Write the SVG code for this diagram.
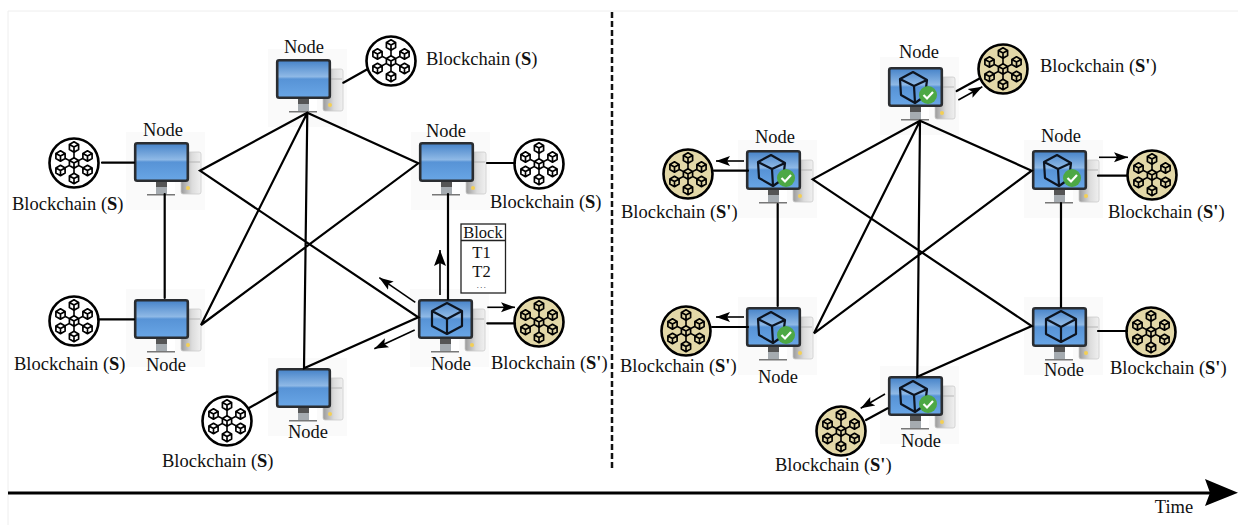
<svg xmlns="http://www.w3.org/2000/svg" width="1238" height="525" viewBox="0 0 1238 525">
<style>
text{font-family:"Liberation Serif","Times New Roman",serif;font-size:18.5px;fill:#111}
.m{text-anchor:middle}
.k{stroke:#000;stroke-width:2.2;fill:none;stroke-linecap:round}
.a{stroke:#000;stroke-width:1.6;fill:none}
.big{marker-end:url(#head)}
.sm{marker-end:url(#headS)}
.cube{fill:none;stroke:#0d1420;stroke-width:2.2;stroke-linejoin:round}
.sc{fill:none;stroke:#000;stroke-width:1.7;stroke-linejoin:round}
</style>
<defs>
<linearGradient id="scr" x1="0" y1="0" x2="0" y2="1">
<stop offset="0" stop-color="#4582c8"/><stop offset=".44" stop-color="#8fb9e6"/><stop offset=".5" stop-color="#5793d6"/><stop offset="1" stop-color="#69a6e6"/>
</linearGradient>
<linearGradient id="tw" x1="0" y1="0" x2="1" y2="0">
<stop offset="0" stop-color="#9a9a9a"/><stop offset=".55" stop-color="#dcdcdc"/><stop offset="1" stop-color="#f0f0f0"/>
</linearGradient>
<marker id="head" markerUnits="userSpaceOnUse" markerWidth="18" markerHeight="14" refX="16" refY="7" orient="auto"><path d="M0 1L16 7L0 13L3 7Z" fill="#000"/></marker>
<marker id="headS" markerUnits="userSpaceOnUse" markerWidth="15" markerHeight="12" refX="14" refY="6" orient="auto"><path d="M0 1L14 6L0 11L3 6Z" fill="#000"/></marker>
<g id="pc">
<rect x="-8" y="-10" width="79" height="78" fill="#fafafa"/>
<rect x="47" y="10" width="20" height="42" rx="2" fill="url(#tw)" stroke="#ccc" stroke-width=".8"/>
<path d="M55 20H66" stroke="#aaa" stroke-width=".8"/>
<circle cx="54" cy="46" r="2" fill="#f3cf55"/>
<path d="M33 40H41V52H33Z" fill="#fff"/>
<rect x="22" y="40" width="11" height="12" fill="#a5abb0"/>
<rect x="22" y="40" width="11" height="5" fill="#555"/>
<rect x="13" y="52" width="28" height="1.500" fill="#777"/>
<rect x="1.200" y="1.200" width="52.600" height="37.600" rx="2" fill="url(#scr)" stroke="#2a2d31" stroke-width="2.600"/>
</g>
<g id="cube"><path class="cube" d="M29 4L44 12V27L29 35L14 27V12ZM14 12L29 20L44 12M29 20V35"/></g>
<g id="pcv">
<use href="#pc"/>
<path class="cube" d="M25 5L39 13L37 29L27 36L13 28L12 12ZM12 12L26 19L39 13M26 19L27 36"/>
<circle cx="40" cy="28" r="9" fill="#4da845"/>
<path d="M35.500 28L39 31.500L45 25" fill="none" stroke="#fff" stroke-width="2.200"/>
</g>
<g id="sc"><path class="sc" d="M0 -5.200L4.600 -2.600V2.600L0 5.200L-4.600 2.600V-2.600ZM-4.600 -2.600L0 0L4.600 -2.600M0 0V5.200"/></g>
<g id="chain">
<path d="M0 -5V-11M-4.500 -2.400L-9 -4.800M4.500 -2.400L9 -4.800M-4.500 2.400L-9 4.800M4.500 2.400L9 4.800M0 5V10" stroke="#000" stroke-width="1.600"/>
<use href="#sc" x="0" y="-16"/><use href="#sc" x="-13.500" y="-7"/><use href="#sc" x="13.500" y="-7"/>
<use href="#sc" x="-13.500" y="7.500"/><use href="#sc" x="13.500" y="7.500"/><use href="#sc" x="0" y="15.500"/><use href="#sc" x="0" y="0"/>
</g>
<g id="bw"><circle r="24.500" fill="#fff" stroke="#000" stroke-width="2.600"/><use href="#chain"/></g>
<g id="bt"><circle r="24.500" fill="#e3d8a8" stroke="#000" stroke-width="2.600"/><use href="#chain"/></g>
</defs>
<rect width="1238" height="525" fill="#fff"/>
<path d="M8 525V11H1238" fill="none" stroke="#eee" stroke-width="1"/>

<g id="node-l-top"><use href="#pc" x="276" y="59"/><text class="m" x="304" y="53">Node</text></g>
<g id="node-l-ul"><use href="#pc" x="134" y="142"/><text class="m" x="163" y="136">Node</text></g>
<g id="node-l-ll"><use href="#pc" x="134" y="299"/><text class="m" x="166" y="371">Node</text></g>
<g id="node-l-ur"><use href="#pc" x="419" y="142"/><text class="m" x="446" y="137">Node</text></g>
<g id="node-l-bot"><use href="#pc" x="276" y="368"/><text class="m" x="308" y="438">Node</text></g>
<g id="node-l-block"><use href="#pc" x="418" y="299"/><use href="#cube" x="418" y="299"/><text class="m" x="451" y="370">Node</text></g>

<g id="chain-l-top"><use href="#bw" x="391" y="61"/><text x="426" y="65">Blockchain (<tspan font-weight="bold">S</tspan>)</text></g>
<g id="chain-l-ul"><use href="#bw" x="74" y="163"/><text x="12" y="210">Blockchain (<tspan font-weight="bold">S</tspan>)</text></g>
<g id="chain-l-ll"><use href="#bw" x="74" y="321"/><text x="14" y="370">Blockchain (<tspan font-weight="bold">S</tspan>)</text></g>
<g id="chain-l-ur"><use href="#bw" x="539" y="164"/><text x="490" y="208">Blockchain (<tspan font-weight="bold">S</tspan>)</text></g>
<g id="chain-l-bot"><use href="#bw" x="227" y="421"/><text x="162" y="467">Blockchain (<tspan font-weight="bold">S</tspan>)</text></g>
<g id="chain-l-block"><use href="#bt" x="539" y="322"/><text x="491" y="369">Blockchain (<tspan font-weight="bold">S'</tspan>)</text></g>

<g id="node-r-top"><use href="#pcv" x="888" y="67"/><text class="m" x="919" y="58">Node</text></g>
<g id="node-r-ul"><use href="#pcv" x="746" y="150"/><text class="m" x="775" y="143">Node</text></g>
<g id="node-r-ll"><use href="#pcv" x="746" y="307"/><text class="m" x="778" y="383">Node</text></g>
<g id="node-r-ur"><use href="#pcv" x="1032" y="150"/><text class="m" x="1061" y="142">Node</text></g>
<g id="node-r-lr"><use href="#pc" x="1032" y="307"/><use href="#cube" x="1032" y="307"/><text class="m" x="1064" y="376">Node</text></g>
<g id="node-r-bot"><use href="#pcv" x="888" y="376"/><text class="m" x="921" y="447">Node</text></g>

<g id="chain-r-top"><use href="#bt" x="1003" y="69"/><text x="1040" y="72">Blockchain (<tspan font-weight="bold">S'</tspan>)</text></g>
<g id="chain-r-ul"><use href="#bt" x="688" y="174"/><text x="621" y="218">Blockchain (<tspan font-weight="bold">S'</tspan>)</text></g>
<g id="chain-r-ll"><use href="#bt" x="686" y="331"/><text x="620" y="372">Blockchain (<tspan font-weight="bold">S'</tspan>)</text></g>
<g id="chain-r-ur"><use href="#bt" x="1152" y="175"/><text x="1108" y="218">Blockchain (<tspan font-weight="bold">S'</tspan>)</text></g>
<g id="chain-r-lr"><use href="#bt" x="1151" y="332"/><text x="1110" y="374">Blockchain (<tspan font-weight="bold">S'</tspan>)</text></g>
<g id="chain-r-bot"><use href="#bt" x="841" y="431"/><text x="775" y="471">Blockchain (<tspan font-weight="bold">S'</tspan>)</text></g>

<g id="block">
<rect x="461" y="224" width="44.500" height="69" fill="#fff" stroke="#222" stroke-width="1.300"/>
<path d="M461 240.500H505.500" stroke="#222" stroke-width="1.300"/>
<text class="m" x="483" y="238" style="font-size:16.500px">Block</text>
<text class="m" x="481.500" y="258" style="font-size:16.500px">T1</text>
<text class="m" x="481.500" y="276.500" style="font-size:16.500px">T2</text>
<text class="m" x="482" y="288" style="font-size:8px;letter-spacing:1.500px">...</text>
</g>

<g id="connectors">
<path class="k" d="M307.300 112.700L200 170.700L418.300 317.300L304 368.300L307.300 112.700L201 325L418.300 163.300L307.300 112.700"/>
<path class="k" d="M164.700 194V298M448 194V299"/>
<path class="k" d="M343.300 82.700L367.300 69.300M102 162.700H134M98 319.300H134M487 163H515M249 408L277 392"/>
<path class="k" d="M487.300 323.300H515"/>
<path class="k" d="M920 120.700L812.700 179.300L1031.700 326L917.300 376.700L920 120.700L814 333.300L1031.700 170.700L920 120.700"/>
<path class="k" d="M777.700 204V306M1061 203V307"/>
<path class="k" d="M714 170.700H748M712 327H748M1098 175.700H1127M1098 331H1127M956.700 91L980 78.300M887.700 408.300L866 420"/>
<line class="a big" x1="440" y1="295" x2="440" y2="250"/>
<line class="a sm" x1="415.300" y1="302.300" x2="379.300" y2="277.700"/>
<line class="a sm" x1="414.700" y1="330" x2="374.300" y2="348.700"/>
<line class="a sm" x1="487.300" y1="307.300" x2="515" y2="307.300"/>
<line class="a sm" x1="744" y1="161" x2="716" y2="161"/>
<line class="a sm" x1="744" y1="317" x2="716" y2="317"/>
<line class="a sm" x1="1099" y1="157.300" x2="1128" y2="157.300"/>
<line class="a sm" x1="958.300" y1="100" x2="982.300" y2="86.700"/>
<line class="a sm" x1="885" y1="394" x2="860.700" y2="408.300"/>
</g>

<path id="divider" d="M612 12V468" stroke="#111" stroke-width="2.500" stroke-dasharray="6 3" fill="none"/>
<g id="time">
<path d="M8 493H1212" stroke="#000" stroke-width="3"/>
<path d="M1238 492.700L1205 479L1210 492.700L1205 506Z" fill="#000"/>
<text class="m" x="1174" y="513">Time</text>
</g>
</svg>
